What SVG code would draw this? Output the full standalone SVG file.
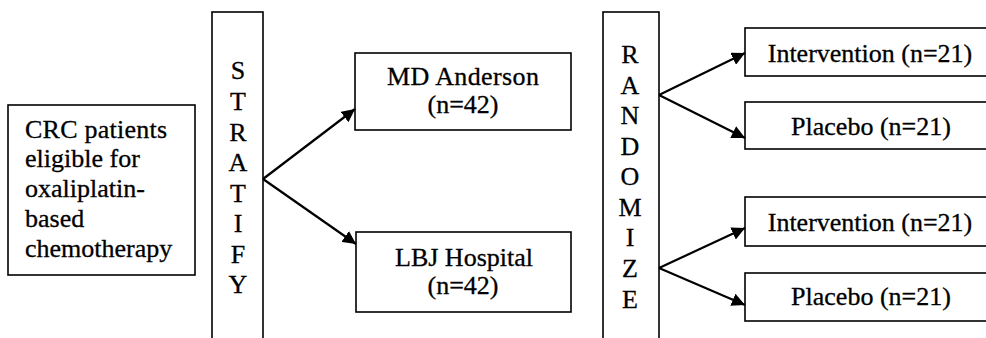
<svg xmlns="http://www.w3.org/2000/svg" width="986" height="338" viewBox="0 0 986 338">
<style>
.box{fill:#fff;stroke:#000;stroke-width:1.6}
text{font-family:'Liberation Serif','DejaVu Serif',serif;font-size:26px;fill:#000;stroke:#000;stroke-width:0.3}
.c{text-anchor:middle}
.ar{stroke:#000;stroke-width:2.2;fill:none;marker-end:url(#ah)}
</style>
<defs>
<marker id="ah" viewBox="0 0 10 10" refX="10" refY="5" markerWidth="6" markerHeight="6" orient="auto" markerUnits="strokeWidth">
<path d="M0,0 L10,5 L0,10 z" fill="#000"/>
</marker>
</defs>
<rect width="986" height="338" fill="#fff"/>
<g id="eligible">
<rect class="box" x="8" y="105" width="187" height="170"/>
<text x="25" y="138" textLength="142">CRC patients</text>
<text x="25" y="167">eligible for</text>
<text x="25" y="197">oxaliplatin-</text>
<text x="25" y="227">based</text>
<text x="25" y="257">chemotherapy</text>
</g>
<g id="stratify">
<rect class="box" x="212" y="12" width="51" height="340"/>
<text class="c" x="238" y="79">S</text>
<text class="c" x="238" y="110">T</text>
<text class="c" x="238" y="141">R</text>
<text class="c" x="238" y="171">A</text>
<text class="c" x="238" y="202">T</text>
<text class="c" x="238" y="232">I</text>
<text class="c" x="238" y="263">F</text>
<text class="c" x="238" y="293">Y</text>
</g>
<g id="mdanderson">
<rect class="box" x="355" y="53" width="216" height="77"/>
<text class="c" x="463" y="85" font-size="28" textLength="152">MD Anderson</text>
<text class="c" x="463" y="113">(n=42)</text>
</g>
<g id="lbj">
<rect class="box" x="356" y="232" width="215" height="80"/>
<text class="c" x="464" y="266">LBJ Hospital</text>
<text class="c" x="463" y="294">(n=42)</text>
</g>
<g id="randomize">
<rect class="box" x="603" y="12" width="56" height="340"/>
<text class="c" x="630" y="63">R</text>
<text class="c" x="630" y="94">A</text>
<text class="c" x="630" y="124">N</text>
<text class="c" x="630" y="155">D</text>
<text class="c" x="630" y="185">O</text>
<text class="c" x="630" y="216">M</text>
<text class="c" x="630" y="246">I</text>
<text class="c" x="630" y="277">Z</text>
<text class="c" x="630" y="308">E</text>
</g>
<g id="int1">
<rect class="box" x="745" y="28" width="250" height="48"/>
<text class="c" x="870" y="62">Intervention (n=21)</text>
</g>
<g id="pla1">
<rect class="box" x="745" y="102" width="250" height="47"/>
<text class="c" x="871" y="135">Placebo (n=21)</text>
</g>
<g id="int2">
<rect class="box" x="745" y="197" width="250" height="49"/>
<text class="c" x="870" y="231">Intervention (n=21)</text>
</g>
<g id="pla2">
<rect class="box" x="745" y="273" width="250" height="48"/>
<text class="c" x="871" y="305">Placebo (n=21)</text>
</g>
<g id="connectors">
<line class="ar" x1="263" y1="179" x2="355" y2="109"/>
<line class="ar" x1="263" y1="179" x2="356" y2="244"/>
<line class="ar" x1="659" y1="95" x2="745" y2="53"/>
<line class="ar" x1="659" y1="95" x2="745" y2="138"/>
<line class="ar" x1="659" y1="268" x2="745" y2="228"/>
<line class="ar" x1="659" y1="268" x2="745" y2="305"/>
</g>
</svg>
